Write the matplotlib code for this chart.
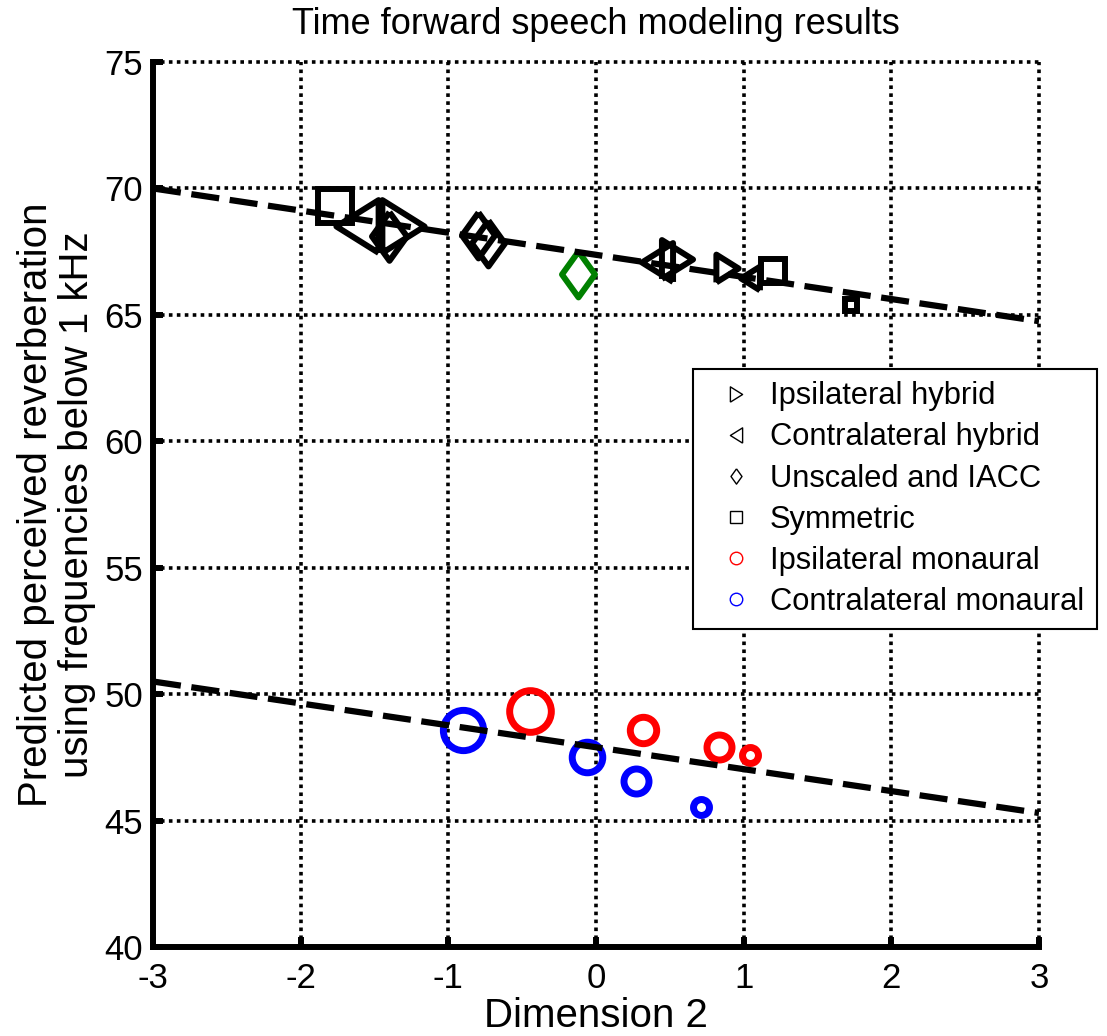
import numpy as np
import matplotlib.pyplot as plt
from matplotlib.lines import Line2D

plt.rcParams['font.family'] = ['Liberation Sans', 'DejaVu Sans']
plt.rcParams['axes.unicode_minus'] = False

# Dimension 2 vs predicted perceived reverberation, per model type
ipsi_hyb_x = [-1.31, 0.55, 0.89]
ipsi_hyb_y = [68.5, 67.2, 66.85]
contra_hyb_x = [-1.62, 0.41, 1.04]
contra_hyb_y = [68.5, 67.1, 66.45]
unscaled_x = [-1.40, -0.80, -0.73]
unscaled_y = [68.1, 68.15, 67.85]
iacc_x = [-0.12]
iacc_y = [66.6]
sym_x = [-1.77, 1.2, 1.73]
sym_y = [69.3, 66.75, 65.4]
ipsi_mon_x = [-0.45, 0.32, 0.83, 1.04]
ipsi_mon_y = [49.35, 48.6, 47.9, 47.6]
contra_mon_x = [-0.90, -0.06, 0.27, 0.71]
contra_mon_y = [48.6, 47.5, 46.55, 45.55]

# regression lines
fit_x = [-3, 3]
fit_upper = [70.0, 64.75]
fit_lower = [50.5, 45.3]

legend_labels = ['Ipsilateral hybrid', 'Contralateral hybrid', 'Unscaled and IACC',
                 'Symmetric', 'Ipsilateral monaural', 'Contralateral monaural']

# marker sizes (pt)
ipsi_hyb_ms = [38, 28, 20]
contra_hyb_ms = [38, 28, 17]
unscaled_ms = [35, 33, 33]
iacc_ms = [33]
sym_ms = [24.5, 17, 8.5]
ipsi_mon_ms = [30, 19, 18, 11.5]
contra_mon_ms = [29, 22, 18, 11.5]

tri_right = [(-0.8, -1), (-0.8, 1), (0.8, 0), (-0.8, -1)]
tri_left = [(0.8, -1), (0.8, 1), (-0.8, 0), (0.8, -1)]
diamond = [(0, 1), (0.72, 0), (0, -1), (-0.72, 0), (0, 1)]

fig = plt.figure(figsize=(11.07, 10.36), dpi=100)
ax = fig.add_axes([153/1107, 89/1036, (1039-153)/1107, (947-62)/1036])


def scatter(xs, ys, sizes, marker, color, mew):
    for x, y, s in zip(xs, ys, sizes):
        ax.plot(x, y, linestyle='none', marker=marker, markersize=s,
                markerfacecolor='none', markeredgecolor=color,
                markeredgewidth=mew, zorder=3)


scatter(sym_x, sym_y, sym_ms, 's', 'black', 4.3)
scatter(ipsi_hyb_x, ipsi_hyb_y, ipsi_hyb_ms, tri_right, 'black', 4.3)
scatter(contra_hyb_x, contra_hyb_y, contra_hyb_ms, tri_left, 'black', 4.3)
scatter(unscaled_x, unscaled_y, unscaled_ms, diamond, 'black', 4.3)
scatter(iacc_x, iacc_y, iacc_ms, diamond, 'green', 4.3)
scatter(ipsi_mon_x, ipsi_mon_y, ipsi_mon_ms, 'o', 'red', 5)
scatter(contra_mon_x, contra_mon_y, contra_mon_ms, 'o', 'blue', 5)

ax.plot(fit_x, fit_upper, color='black', lw=4.5, linestyle=(0, (4.5, 1.7)), zorder=4)
ax.plot(fit_x, fit_lower, color='black', lw=4.5, linestyle=(0, (4.5, 1.7)), zorder=4)

ax.set_xlim(-3, 3)
ax.set_ylim(40, 75)
ax.set_xticks(np.arange(-3, 4, 1))
ax.set_yticks(np.arange(40, 80, 5))
ax.grid(True, color='black', linestyle=(0, (1, 1.2)), linewidth=2.6)
ax.set_axisbelow(True)
for gl in ax.get_xgridlines() + ax.get_ygridlines():
    gl.set_clip_on(False)

for side in ['top', 'right']:
    ax.spines[side].set_visible(False)
for side in ['left', 'bottom']:
    ax.spines[side].set_linewidth(4.3)
ax.tick_params(direction='in', length=7, width=4.3, labelsize=25)
ax.tick_params(axis='x', pad=11)
ax.tick_params(axis='y', pad=7)

ax.set_title('Time forward speech modeling results', fontsize=26, pad=20)
ax.set_xlabel('Dimension 2', fontsize=29, labelpad=1)
ax.set_ylabel('Predicted perceived reverberation\nusing frequencies below 1 kHz',
              fontsize=29, labelpad=6, linespacing=1.1)

handles = [
    Line2D([], [], ls='none', marker=tri_right, ms=11, mfc='none', mec='black', mew=1),
    Line2D([], [], ls='none', marker=tri_left, ms=11, mfc='none', mec='black', mew=1),
    Line2D([], [], ls='none', marker=diamond, ms=11, mfc='none', mec='black', mew=1),
    Line2D([], [], ls='none', marker='s', ms=8, mfc='none', mec='black', mew=1),
    Line2D([], [], ls='none', marker='o', ms=9, mfc='none', mec='red', mew=1),
    Line2D([], [], ls='none', marker='o', ms=9, mfc='none', mec='blue', mew=1),
]
leg = fig.legend(handles, legend_labels, loc='upper left',
                 bbox_to_anchor=(693/1107, 1 - 369/1036), borderaxespad=0,
                 fontsize=22.2, fancybox=False, framealpha=1, edgecolor='black',
                 labelspacing=0.36, handlelength=2.0, handletextpad=0.1,
                 borderpad=0.4)
leg.get_frame().set_linewidth(1.5)

fig.savefig('out.png', dpi=100)
